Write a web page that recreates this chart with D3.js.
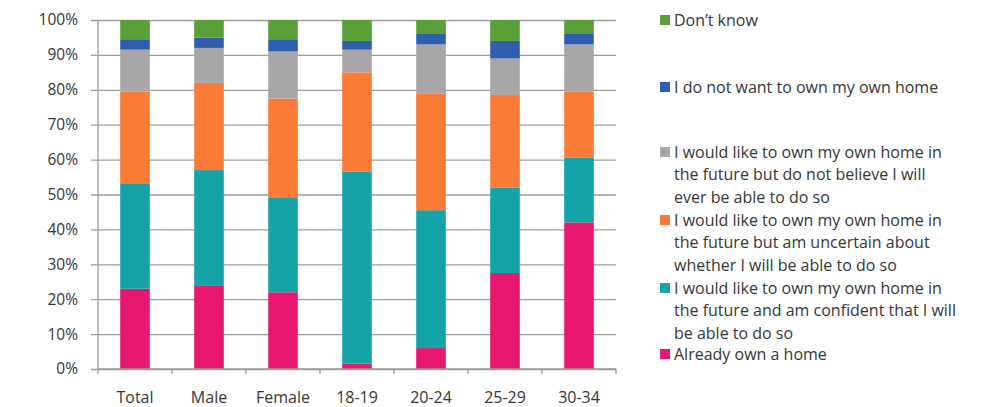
<!DOCTYPE html>
<html>
<head>
<meta charset="utf-8">
<script src="https://cdn.jsdelivr.net/npm/d3@7"></script>
<style>
  html, body { margin: 0; padding: 0; background: #fff; }
  svg { display: block; }
  text { font-family: "Open Sans", Lato, sans-serif; font-weight: 500; fill: #363636; }
</style>
</head>
<body>
<svg id="chart" width="993" height="407"></svg>
<script>
// Survey groups along the x axis
const categories = ["Total", "Male", "Female", "18-19", "20-24", "25-29", "30-34"];

// Share of respondents (%) in each answer, stacked bottom to top
const alreadyOwn   = [23,   24,   22,   1.5,  6,    27.5, 42];
const confident    = [30,   33,   27,   55,   39.5, 24.5, 18.5];
const uncertain    = [26.5, 25,   28.5, 28.5, 33.5, 26.5, 19];
const notBelieve   = [12,   10,   13.5, 6.5,  14,   10.5, 13.5];
const doNotWant    = [3,    3,    3.5,  2.5,  3,    5,    3];
const dontKnow     = [5.5,  5,    5.5,  6,    4,    6,    4];

const yTicks = [0, 10, 20, 30, 40, 50, 60, 70, 80, 90, 100];

const seriesValues = [alreadyOwn, confident, uncertain, notBelieve, doNotWant, dontKnow];
const seriesColors = ["#e8176f", "#14a3a7", "#f97b35", "#a8a6a8", "#2d5fae", "#5a9f38"];

// Legend text, wrapped as drawn, top to bottom
const legendLines = [
  ["Don\u2019t know"],
  ["I do not want to own my own home"],
  ["I would like to own my own home in", "the future but do not believe I will", "ever be able to do so"],
  ["I would like to own my own home in", "the future but am uncertain about", "whether I will be able to do so"],
  ["I would like to own my own home in", "the future and am confident that I will", "be able to do so"],
  ["Already own a home"]
];
const legendSeries = [5, 4, 3, 2, 1, 0];
const legendTop = [20, 87, 152, 220, 288, 354];

const rows = categories.map((c, i) => {
  const r = { cat: c };
  seriesValues.forEach((arr, k) => { r["s" + k] = arr[i]; });
  return r;
});
const keys = seriesValues.map((_, k) => "s" + k);
const stacked = d3.stack().keys(keys)(rows);

const svg = d3.select("#chart");
const plot = { left: 98, right: 616, top: 20, bottom: 369 };

const x = d3.scaleBand().domain(categories).range([plot.left, plot.right]).paddingInner(0.6).paddingOuter(0.3);
const xEdges = d3.scaleBand().domain(categories).range([plot.left, plot.right]);
const y = d3.scaleLinear().domain([0, 100]).range([plot.bottom, plot.top]);

// Gridlines with outward ticks
const yAxis = d3.axisLeft(y).tickValues(yTicks).tickFormat(d => d + "%")
  .tickSize(-(plot.right - plot.left)).tickPadding(12);
const gy = svg.append("g").attr("transform", `translate(${plot.left},0)`).call(yAxis);
gy.select(".domain").remove();
gy.selectAll(".tick line").attr("stroke", "#9c9c9c").attr("stroke-width", 1.3).attr("x1", -7);
gy.selectAll(".tick text").attr("font-size", 15.5).attr("fill", "#363636")
  .style("font-family", "'Open Sans', Lato, sans-serif").attr("x", -20);

svg.append("line").attr("x1", plot.left).attr("x2", plot.left)
  .attr("y1", plot.top).attr("y2", plot.bottom).attr("stroke", "#9c9c9c").attr("stroke-width", 1.3);

// Bars
svg.append("g").selectAll("g").data(stacked).join("g")
  .attr("fill", (d, k) => seriesColors[k])
  .selectAll("rect").data(d => d).join("rect")
  .attr("x", d => x(d.data.cat))
  .attr("width", x.bandwidth())
  .attr("y", d => y(d[1]))
  .attr("height", d => y(d[0]) - y(d[1]));

// Category axis
const gx = svg.append("g").attr("transform", `translate(0,${plot.bottom})`);
gx.append("line").attr("x1", plot.left).attr("x2", plot.right).attr("stroke", "#9c9c9c").attr("stroke-width", 1.3);
const edges = categories.map(c => xEdges(c)).concat([plot.right]);
gx.selectAll("line.tk").data(edges).join("line").attr("class", "tk")
  .attr("x1", d => d).attr("x2", d => d).attr("y1", 0).attr("y2", 5)
  .attr("stroke", "#9c9c9c").attr("stroke-width", 1.3);
gx.selectAll("text").data(categories).join("text")
  .attr("x", d => xEdges(d) + xEdges.bandwidth() / 2)
  .attr("y", 34).attr("text-anchor", "middle").attr("font-size", 16).text(d => d);

// Legend
const lg = svg.append("g");
const lineGap = 22.6;
legendLines.forEach((lines, i) => {
  const top = legendTop[i];
  lg.append("rect").attr("x", 660).attr("y", top - 5).attr("width", 10).attr("height", 10)
    .attr("fill", seriesColors[legendSeries[i]]);
  lines.forEach((t, j) => {
    lg.append("text").attr("x", 674).attr("y", top + j * lineGap)
      .attr("dy", "0.35em").attr("font-size", 16).text(t);
  });
});
</script>
</body>
</html>
